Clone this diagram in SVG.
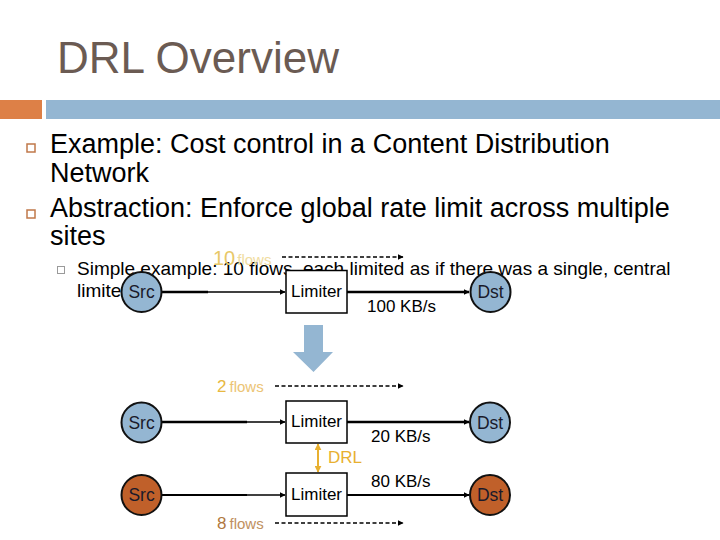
<svg xmlns="http://www.w3.org/2000/svg" width="720" height="540" viewBox="0 0 720 540">
<defs>
<marker id="ah" viewBox="0 0 10 10" refX="9" refY="5" markerWidth="6" markerHeight="6" orient="auto" markerUnits="userSpaceOnUse"><path d="M0,0 L10,5 L0,10 z" fill="#000"/></marker>
<marker id="ahO" viewBox="0 0 10 10" refX="9" refY="5" markerWidth="7" markerHeight="7" orient="auto-start-reverse" markerUnits="userSpaceOnUse"><path d="M0,0 L10,5 L0,10 z" fill="#e8b030"/></marker>
<style>
text{font-family:"Liberation Sans",Arial,sans-serif}
.title{font-size:44px;fill:#6b5b53}
.b1{font-size:27px;fill:#000}
.b2{font-size:19px;fill:#000}
.blt{fill:none;stroke:#c0784a;stroke-width:1.5}
.nb{fill:#94b6d2;stroke:#111;stroke-width:2}
.no{fill:#c0602a;stroke:#111;stroke-width:2}
.nt{font-size:17.5px;fill:#1a1a2a;text-anchor:middle}
.lim{fill:#fff;stroke:#000;stroke-width:1.5}
.lt{font-size:17px;fill:#000;text-anchor:middle}
.rate{font-size:17px;fill:#000}
.ln{stroke:#000;fill:none}
.dash{stroke:#000;stroke-width:1.5;stroke-dasharray:4 2.5;fill:none}
</style>
</defs>
<rect width="720" height="540" fill="#fff"/>
<text class="title" x="57" y="73">DRL Overview</text>
<rect x="0" y="100" width="42" height="19" fill="#dd8047"/>
<rect x="46" y="100" width="674" height="19" fill="#94b6d2"/>

<rect class="blt" x="27" y="144" width="8" height="8"/>
<text class="b1" x="50" y="153">Example: Cost control in a Content Distribution</text>
<text class="b1" x="50" y="182">Network</text>
<rect class="blt" x="27" y="210" width="8" height="8"/>
<text class="b1" x="50" y="217">Abstraction: Enforce global rate limit across multiple</text>
<text class="b1" x="50" y="245">sites</text>
<rect x="57.5" y="266.5" width="7" height="7" fill="none" stroke="#9a9a9a" stroke-width="1"/>
<text class="b2" x="77" y="275">Simple example: 10 flows, each limited as if there was a single, central</text>
<text class="b2" x="77" y="297">limiter</text>

<g id="connectors">
<line class="ln" x1="162" y1="292" x2="208" y2="292" stroke-width="2.5"/>
<line class="ln" x1="200" y1="292" x2="285" y2="292" stroke-width="1.5" marker-end="url(#ah)"/>
<line class="ln" x1="347" y1="292" x2="469" y2="292" stroke-width="2.5" marker-end="url(#ah)"/>
<line class="dash" x1="282" y1="257" x2="403" y2="257" marker-end="url(#ah)"/>
<line class="ln" x1="162" y1="422" x2="247" y2="422" stroke-width="2.5"/>
<line class="ln" x1="240" y1="422" x2="285" y2="422" stroke-width="1.5" marker-end="url(#ah)"/>
<line class="ln" x1="347" y1="422" x2="469" y2="422" stroke-width="2.5" marker-end="url(#ah)"/>
<line class="ln" x1="162" y1="495" x2="247" y2="495" stroke-width="2.2"/>
<line class="ln" x1="240" y1="495" x2="285" y2="495" stroke-width="1.5" marker-end="url(#ah)"/>
<line class="ln" x1="347" y1="495" x2="469" y2="495" stroke-width="1.8" marker-end="url(#ah)"/>
<line class="dash" x1="275" y1="386" x2="403" y2="386" marker-end="url(#ah)"/>
<line class="dash" x1="275" y1="523" x2="403" y2="523" marker-end="url(#ah)"/>
<line x1="318" y1="444" x2="318" y2="472" stroke="#e8b030" stroke-width="2" marker-start="url(#ahO)" marker-end="url(#ahO)"/>
</g>

<g id="flows1"><text x="213" y="265" font-size="20" fill="#e8c868">10<tspan font-size="15" fill="#f0dca0" dx="2">flows</tspan></text></g>
<g id="src1"><circle class="nb" cx="141.5" cy="292" r="20"/><text class="nt" x="141.5" y="298">Src</text></g>
<g id="lim1"><rect class="lim" x="286" y="270.5" width="61" height="42.5"/><text class="lt" x="316.5" y="297">Limiter</text></g>
<g id="dst1"><circle class="nb" cx="490.5" cy="292" r="20"/><text class="nt" x="490.5" y="298">Dst</text></g>
<text class="rate" x="367" y="312">100 KB/s</text>

<g id="downarrow"><polygon points="304,325 323,325 323,352 333,352 313.5,372 293,352 304,352" fill="#94b6d2"/></g>

<g id="flows2"><text x="217" y="392" font-size="17" fill="#e8b840">2<tspan font-size="15" fill="#ecc474" dx="3">flows</tspan></text></g>
<g id="src2"><circle class="nb" cx="141.5" cy="422.5" r="20"/><text class="nt" x="141.5" y="428.5">Src</text></g>
<g id="lim2"><rect class="lim" x="286" y="401" width="61" height="42"/><text class="lt" x="316.5" y="427">Limiter</text></g>
<g id="dst2"><circle class="nb" cx="490" cy="422.5" r="20"/><text class="nt" x="490" y="428.5">Dst</text></g>
<text class="rate" x="371" y="442">20 KB/s</text>
<text x="328" y="463" font-size="17" fill="#e8b030">DRL</text>

<g id="src3"><circle class="no" cx="141.5" cy="495" r="20"/><text class="nt" x="141.5" y="501">Src</text></g>
<g id="lim3"><rect class="lim" x="286" y="473" width="61" height="43"/><text class="lt" x="316.5" y="500">Limiter</text></g>
<g id="dst3"><circle class="no" cx="490" cy="495" r="20"/><text class="nt" x="490" y="501">Dst</text></g>
<text class="rate" x="371" y="487">80 KB/s</text>
<g id="flows3"><text x="217" y="529" font-size="17" fill="#b07840">8<tspan font-size="15" fill="#c09060" dx="3">flows</tspan></text></g>
</svg>
